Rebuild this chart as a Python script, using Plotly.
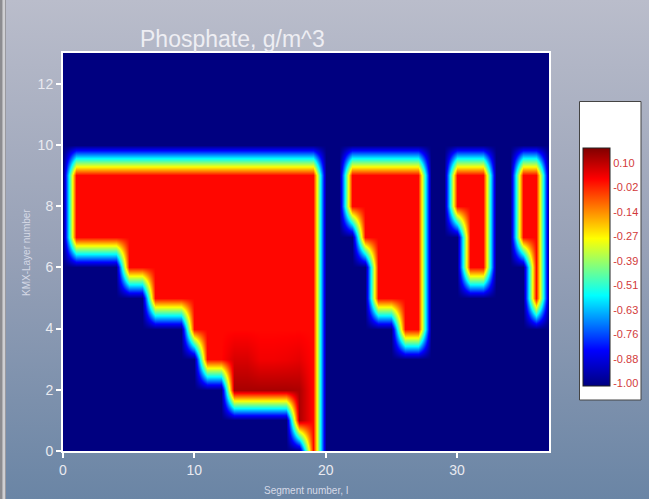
import base64
import plotly.graph_objects as go

# ---------------- data ----------------
segments = list(range(38))          # segment number, I
layers = list(range(14))            # KMX layer number
top_layer = 9                       # surface layer of the active cells
# deepest active layer per segment (None = inactive column)
bottom_layer = [None, 7, 7, 7, 7, 6, 6, 5, 5, 5, 4, 3, 3, 2, 2, 2, 2, 2, 1, 0,
                None, None, 8, 7, 5, 5, 4, 4, None, None, 8, 6, 6, None, None, 7, 5, None]
empty_value = -1.0
water_value = -0.05
# higher concentration patch near the bottom of the first branch
patch_segments = [13, 14, 15, 16, 17, 18]
patch_layer3 = [0.0, 0.0, -0.03, -0.03, -0.025, -0.015]
patch_layer2 = [0.055, 0.055, 0.055, 0.055, 0.055, 0.05]
patch_layer1 = [None, None, None, None, None, 0.05]

cb_labels = ["0.10", "-0.02", "-0.14", "-0.27", "-0.39", "-0.51", "-0.63", "-0.76", "-0.88", "-1.00"]
cb_label_pos = [0.03, -0.083, -0.196, -0.31, -0.423, -0.537, -0.65, -0.763, -0.877, -0.99]

# ---------------- grid ----------------
z = []
for k in layers:
    row = []
    for s in segments:
        b = bottom_layer[s]
        row.append(water_value if (b is not None and b <= k <= top_layer) else empty_value)
    z.append(row)
for i, s in enumerate(patch_segments):
    z[3][s] = patch_layer3[i]
    z[2][s] = patch_layer2[i]
    if patch_layer1[i] is not None:
        z[1][s] = patch_layer1[i]

# ---------------- geometry helpers ----------------
W, H = 649, 499
ML, MR, MT, MB = 63, 100, 53, 48
PW, PH = W - ML - MR, H - MT - MB
px2x = lambda px: (px - ML) / PW
py2y = lambda py: (H - MB - py) / PH

colorscale = [[0, "rgb(0,0,128)"], [0.15, "rgb(0,0,255)"], [0.38, "rgb(0,255,255)"],
              [0.62, "rgb(255,255,0)"], [0.87, "rgb(255,0,0)"], [1, "rgb(128,0,0)"]]

fig = go.Figure(go.Heatmap(
    x=segments, y=layers, z=z, zsmooth="best", zmin=-1.0, zmax=0.1,
    colorscale=colorscale, hoverinfo="skip",
    colorbar=dict(
        thickness=27, thicknessmode="pixels", len=238, lenmode="pixels",
        x=px2x(582.5), xanchor="left", y=py2y(147.7), yanchor="top",
        xpad=0, ypad=0, outlinewidth=1, outlinecolor="#222",
        tickvals=cb_label_pos, ticktext=cb_labels, ticks="",
        tickfont=dict(size=11, color="#d23a3a", family="Arial"),
        bgcolor="rgba(0,0,0,0)", borderwidth=0,
    ),
))

svg = ('<svg xmlns="http://www.w3.org/2000/svg" width="649" height="499">'
       '<defs><linearGradient id="g" x1="0" y1="0" x2="0" y2="1">'
       '<stop offset="0" stop-color="#babdcb"/><stop offset="0.5" stop-color="#97a1b7"/>'
       '<stop offset="1" stop-color="#6a85a5"/></linearGradient></defs>'
       '<rect width="649" height="499" fill="url(#g)"/></svg>')
src = "data:image/svg+xml;base64," + base64.b64encode(svg.encode()).decode()

axis_common = dict(showgrid=False, zeroline=False, ticks="outside", ticklen=5, tickwidth=2,
                   tickcolor="white", showline=True, linecolor="white", linewidth=2, mirror=True,
                   tickfont=dict(size=14, color="#e9eaf0", family="Arial"))

fig.update_layout(
    width=W, height=H, margin=dict(l=ML, r=MR, t=MT, b=MB, autoexpand=False),
    paper_bgcolor="#97a1b7", plot_bgcolor="rgba(0,0,0,0)",
    xaxis=dict(range=[0, 37], tickvals=[0, 10, 20, 30], **axis_common),
    yaxis=dict(range=[0, 13], dtick=2, **axis_common),
    images=[dict(source=src, xref="paper", yref="paper", x=px2x(0), y=py2y(0),
                 sizex=W / PW, sizey=H / PH, sizing="stretch", xanchor="left", yanchor="top",
                 layer="below")],
    shapes=[
        dict(type="rect", xref="paper", yref="paper", x0=px2x(579.5), x1=px2x(641),
             y0=py2y(400), y1=py2y(101.5), fillcolor="white", line=dict(color="#444", width=1),
             layer="below"),
        dict(type="rect", xref="paper", yref="paper", x0=px2x(0), x1=px2x(6),
             y0=py2y(499), y1=py2y(0), fillcolor="#cfcfd2", line=dict(width=0), layer="below"),
        dict(type="line", xref="paper", yref="paper", x0=px2x(1.2), x1=px2x(1.2),
             y0=py2y(499), y1=py2y(0), line=dict(color="#8c8c90", width=2.5), layer="below"),
        dict(type="line", xref="paper", yref="paper", x0=px2x(5.5), x1=px2x(5.5),
             y0=py2y(499), y1=py2y(0), line=dict(color="#9a9aa0", width=1), layer="below"),
    ],
    annotations=[
        dict(text="Phosphate, g/m^3", xref="paper", yref="paper", x=px2x(138), y=py2y(39),
             xanchor="left", yanchor="middle", showarrow=False,
             font=dict(size=23, color="#eeeef3", family="Arial")),
        dict(text="Segment number, I", xref="paper", yref="paper", x=px2x(306), y=py2y(490),
             xanchor="center", yanchor="middle", showarrow=False,
             font=dict(size=10, color="#d5d9e6", family="Arial")),
        dict(text="KMX-Layer number", xref="paper", yref="paper", x=px2x(27), y=py2y(253),
             xanchor="center", yanchor="middle", textangle=-90, showarrow=False,
             font=dict(size=10, color="#d5d9e6", family="Arial")),
    ],
)

fig.write_html("out.html", config={"displayModeBar": False},
               post_script="document.body.style.margin='0px';")
